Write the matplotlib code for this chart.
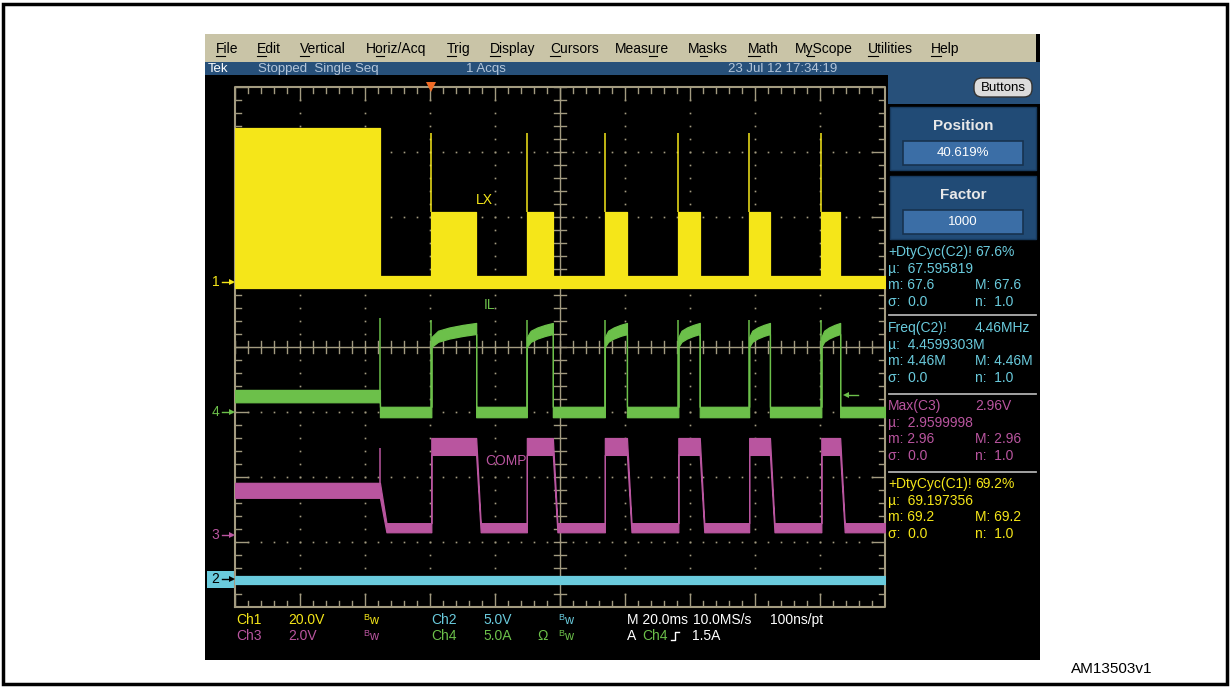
import numpy as np
import matplotlib.pyplot as plt
from matplotlib.patches import Rectangle, FancyBboxPatch
from matplotlib.font_manager import FontProperties

plt.rcParams['font.family'] = ['Liberation Sans', 'DejaVu Sans']

W, H = 1231, 688

# burst timing, in horizontal divisions
startup_end = 2.23
burst_start = [3.02, 4.49, 5.69, 6.82, 7.91, 9.02]
burst_end = [3.71, 4.89, 6.03, 7.15, 8.23, 9.31]

# LX (Ch1), in vertical divisions
lx_base = (0.91, 1.09)
lx_startup_top = 3.37
lx_burst_top = 2.08
lx_spike = 3.29

# IL (Ch4)
il_pre = (-0.85, -0.66)
il_pre_spike = 0.45
il_low = (-1.08, -0.92)
il_spike = 0.42
il_ramp_frac = [0.0, 0.15, 0.4, 0.7, 1.0]
il_ramp_lo = [0.0, 0.08, 0.13, 0.17, 0.2]
il_ramp_hi = [0.15, 0.25, 0.3, 0.34, 0.37]

# COMP (Ch3)
comp_pre = (-2.32, -2.09)
comp_pre_spike = -1.55
comp_high = (-1.66, -1.40)
comp_low = (-2.85, -2.71)
comp_fall = 0.07

# Ch2
ch2_band = (-3.65, -3.52)

# ground markers
ch_marks = ['1', '4', '3', '2']
ch_offsets = [1.0, -1.0, -2.89, -3.57]
trig_level = -0.74
trig_pos = 3.02

menu_items = ['File', 'Edit', 'Vertical', 'Horiz/Acq', 'Trig', 'Display', 'Cursors',
              'Measure', 'Masks', 'Math', 'MyScope', 'Utilities', 'Help']
menu_under = [0, 0, 0, 1, 0, 0, 0, 4, 1, 0, 1, 0, 0]
menu_x = [216, 257, 300, 366, 447, 490, 550, 615, 688, 748, 795, 868, 931]

YEL = '#f5e619'
GRN = '#6cc04a'
MAG = '#b9559f'
CYA = '#6acbdd'
GRID = '#a39b80'
TAN = '#c9c4a7'
BLUE = '#27507a'
PANEL = '#214b76'
BOX = '#3b6ea6'

meas_groups = [
    (CYA, ['+DtyCyc(C2)!', 'µ:  67.595819', 'm: 67.6', 'σ:  0.0'], ['67.6%', '', 'M: 67.6', 'n:  1.0'], 252),
    (CYA, ['Freq(C2)!', 'µ:  4.4599303M', 'm: 4.46M', 'σ:  0.0'], ['4.46MHz', '', 'M: 4.46M', 'n:  1.0'], 328),
    (MAG, ['Max(C3)', 'µ:  2.9599998', 'm: 2.96', 'σ:  0.0'], ['2.96V', '', 'M: 2.96', 'n:  1.0'], 406),
    (YEL, ['+DtyCyc(C1)!', 'µ:  69.197356', 'm: 69.2', 'σ:  0.0'], ['69.2%', '', 'M: 69.2', 'n:  1.0'], 484),
]

fig = plt.figure(figsize=(W / 100, H / 100), dpi=100)
fig.patch.set_facecolor('white')

# pixel-space background layer
bg = fig.add_axes([0, 0, 1, 1])
bg.set_xlim(0, W)
bg.set_ylim(H, 0)
bg.axis('off')

bg.add_patch(Rectangle((3, 4), 1224, 680, fill=False, ec='black', lw=2.5))
bg.add_patch(Rectangle((205, 34), 835, 626, fc='black', ec='none'))
bg.add_patch(Rectangle((205, 34), 831, 28, fc=TAN, ec='none'))
bg.add_patch(Rectangle((205, 62), 835, 13, fc=BLUE, ec='none'))
bg.add_patch(Rectangle((888, 62), 152, 42, fc=BLUE, ec='none'))

r = fig.canvas.get_renderer()
fp = FontProperties(family=['Liberation Sans', 'DejaVu Sans'], size=10)
for name, ui, x in zip(menu_items, menu_under, menu_x):
    bg.text(x, 49, name, fontsize=10, color='black', va='center', ha='left')
    w0 = r.get_text_width_height_descent(name[:ui], fp, ismath=False)[0] if ui else 0
    w1 = r.get_text_width_height_descent(name[:ui + 1], fp, ismath=False)[0]
    bg.plot([x + w0, x + w1], [56, 56], color='black', lw=0.8)

bg.text(208, 69, 'Tek', color='white', fontsize=9.5, va='center')
bg.text(258, 69, 'Stopped  Single Seq', color='#b4c6da', fontsize=9.5, va='center')
bg.text(466, 69, '1 Acqs', color='#b4c6da', fontsize=9.5, va='center')
bg.text(728, 69, '23 Jul 12 17:34:19', color='#b4c6da', fontsize=9.5, va='center')

bg.add_patch(FancyBboxPatch((974, 78), 58, 19, boxstyle='round,pad=0,rounding_size=8',
                            fc='#dcdcdc', ec='#333333', lw=1))
bg.text(1003, 88, 'Buttons', fontsize=9.5, ha='center', va='center', color='black')

for y0, title, val in [(107, 'Position', '40.619%'), (176, 'Factor', '1000')]:
    bg.add_patch(Rectangle((890, y0), 146, 63, fc=PANEL, ec='#173a5e', lw=1))
    bg.add_patch(Rectangle((903, y0 + 34), 120, 24, fc=BOX, ec='#17324f', lw=1.2))
    bg.text(963, y0 + 19, title, fontsize=11, fontweight='bold', color='#e8e8e8',
            ha='center', va='center')
    bg.text(963, y0 + 46, val, fontsize=9.5, color='white', ha='center', va='center')

for col, left, right, y0 in meas_groups:
    for i in range(4):
        bg.text(888, y0 + i * 16.5, left[i], color=col, fontsize=10, va='center')
        if right[i]:
            bg.text(975, y0 + i * 16.5, right[i], color=col, fontsize=10, va='center')
for ys in [315, 394, 472]:
    bg.plot([889, 1036], [ys, ys], color='#b0b0b0', lw=1.3)


# bottom readout
def bw(x, y, c):
    bg.text(x, y - 2, 'B', color=c, fontsize=6.5, va='center')
    bg.text(x + 6, y + 1, 'w', color=c, fontsize=9, va='center')


row1, row2 = 620, 636
bg.text(236, row1, 'Ch1', color=YEL, fontsize=10, va='center')
bg.text(288, row1, '20.0V', color=YEL, fontsize=10, va='center')
bw(363, row1, YEL)
bg.text(431, row1, 'Ch2', color=CYA, fontsize=10, va='center')
bg.text(483, row1, '5.0V', color=CYA, fontsize=10, va='center')
bw(558, row1, CYA)
bg.text(627, row1, 'M 20.0ms', color='white', fontsize=10, va='center')
bg.text(693, row1, '10.0MS/s', color='white', fontsize=10, va='center')
bg.text(770, row1, '100ns/pt', color='white', fontsize=10, va='center')
bg.text(236, row2, 'Ch3', color=MAG, fontsize=10, va='center')
bg.text(288, row2, '2.0V', color=MAG, fontsize=10, va='center')
bw(363, row2, MAG)
bg.text(431, row2, 'Ch4', color=GRN, fontsize=10, va='center')
bg.text(483, row2, '5.0A', color=GRN, fontsize=10, va='center')
bg.text(537, row2, 'Ω', color=GRN, fontsize=10, va='center')
bw(558, row2, GRN)
bg.text(627, row2, 'A', color='white', fontsize=10, va='center')
bg.text(642, row2, 'Ch4', color=GRN, fontsize=10, va='center')
bg.plot([671, 675, 675, 679], [640, 640, 632, 632], color='white', lw=1)
bg.text(692, row2, '1.5A', color='white', fontsize=10, va='center')

bg.text(1071, 669, 'AM13503v1', color='black', fontsize=11, va='center')

# graticule
ax = fig.add_axes([235 / W, 1 - 607 / H, 650 / W, 520 / H])
ax.set_xlim(0, 10)
ax.set_ylim(-4, 4)
ax.axis('off')
ax.patch.set_alpha(0)

xm = np.round(np.arange(0, 10.001, 0.2), 3)
ym = np.round(np.arange(-4, 4.001, 0.2), 3)
tx, ty = 0.092, 0.092 * 650 / 520 * 8 / 10

for yk in [-3, -2, -1, 1, 2, 3]:
    ax.plot(xm, np.full(len(xm), yk), ls='none', marker='s', ms=1.2, mew=0, color=GRID)
for xk in [1, 2, 3, 4, 6, 7, 8, 9]:
    ax.plot(np.full(len(ym), xk), ym, ls='none', marker='s', ms=1.2, mew=0, color=GRID)

ax.plot([0, 10, 10, 0, 0], [-4, -4, 4, 4, -4], color=GRID, lw=1.5, clip_on=False)
ax.axhline(0, color=GRID, lw=1)
ax.axvline(5, color=GRID, lw=1)
for x in xm:
    major = abs(x - round(x)) < 1e-6
    ln = ty * (2.1 if major else 1)
    ax.plot([x, x], [-ty, ty], color=GRID, lw=1)
    ax.plot([x, x], [-4, -4 + ln], color=GRID, lw=1)
    ax.plot([x, x], [4, 4 - ln], color=GRID, lw=1)
for y in ym:
    major = abs(y - round(y)) < 1e-6
    ln = tx * (2.1 if major else 1)
    ax.plot([5 - tx, 5 + tx], [y, y], color=GRID, lw=1)
    ax.plot([0, ln], [y, y], color=GRID, lw=1)
    ax.plot([10, 10 - ln], [y, y], color=GRID, lw=1)


def band(t, lo, hi, c, z=3):
    ax.fill_between(t, lo, hi, color=c, ec=c, lw=0.9, zorder=z)


# LX
t, lo, hi = [0, startup_end, startup_end], [lx_base[0]] * 3, [lx_startup_top, lx_startup_top, lx_base[1]]
for s, e in zip(burst_start, burst_end):
    t += [s, s, e, e]
    lo += [lx_base[0]] * 4
    hi += [lx_base[1], lx_burst_top, lx_burst_top, lx_base[1]]
t.append(10); lo.append(lx_base[0]); hi.append(lx_base[1])
band(t, lo, hi, YEL, 5)
ax.vlines(burst_start, lx_burst_top, lx_spike, color=YEL, lw=1.1, zorder=5)

# IL
t = [0, startup_end, startup_end]
lo = [il_pre[0], il_pre[0], il_low[0]]
hi = [il_pre[1], il_pre[1], il_low[1]]
for s, e in zip(burst_start, burst_end):
    t += [s]
    lo += [il_low[0]]
    hi += [il_low[1]]
    for f, a, b in zip(il_ramp_frac, il_ramp_lo, il_ramp_hi):
        t.append(s + f * (e - s)); lo.append(a); hi.append(b)
    t += [e]
    lo += [il_low[0]]
    hi += [il_low[1]]
t.append(10); lo.append(il_low[0]); hi.append(il_low[1])
band(t, lo, hi, GRN, 4)
ax.vlines([startup_end], il_pre[1], il_pre_spike, color=GRN, lw=1.1, zorder=4)
ax.vlines(burst_start, il_low[1], il_spike, color=GRN, lw=1.1, zorder=4)

# COMP
t = [0, startup_end, startup_end + 0.1]
lo = [comp_pre[0], comp_pre[0], comp_low[0]]
hi = [comp_pre[1], comp_pre[1], comp_low[1]]
for s, e in zip(burst_start, burst_end):
    t += [s, s, e, e + comp_fall]
    lo += [comp_low[0], comp_high[0], comp_high[0], comp_low[0]]
    hi += [comp_low[1], comp_high[1], comp_high[1], comp_low[1]]
t.append(10); lo.append(comp_low[0]); hi.append(comp_low[1])
band(t, lo, hi, MAG, 4)
ax.vlines([startup_end], comp_pre[1], comp_pre_spike, color=MAG, lw=1.1, zorder=4)

# Ch2
band([0, 10], [ch2_band[0]] * 2, [ch2_band[1]] * 2, CYA, 4)

# channel labels on traces
ax.text(3.71, 2.26, 'LX', color=YEL, fontsize=10, va='center')
ax.text(3.82, 0.65, 'IL', color=GRN, fontsize=10, va='center')
ax.text(3.85, -1.75, 'COMP', color=MAG, fontsize=10, va='center')

# ground markers
mark_cols = [YEL, GRN, MAG, 'black']
for m, off, c in zip(ch_marks, ch_offsets, mark_cols):
    if m == '2':
        ax.add_patch(Rectangle((-0.43, off - 0.13), 0.43, 0.26, fc=CYA, ec='none', clip_on=False))
    ax.text(-0.24, off, m, color=c, fontsize=10, ha='right', va='center', clip_on=False)
    ax.plot([-0.2, -0.04], [off, off], color=c, lw=1, clip_on=False)
    ax.plot([-0.05], [off], marker='>', ms=4, color=c, mew=0, clip_on=False)

# trigger markers
ax.plot([9.58, 9.4], [trig_level, trig_level], color=GRN, lw=1)
ax.plot([9.4], [trig_level], marker='<', ms=4, color=GRN, mew=0)
ax.plot([trig_pos], [4.0], marker='v', ms=7, color='#f06a24', mew=0, clip_on=False, zorder=6)

fig.savefig('out.png', dpi=100, facecolor='white')
